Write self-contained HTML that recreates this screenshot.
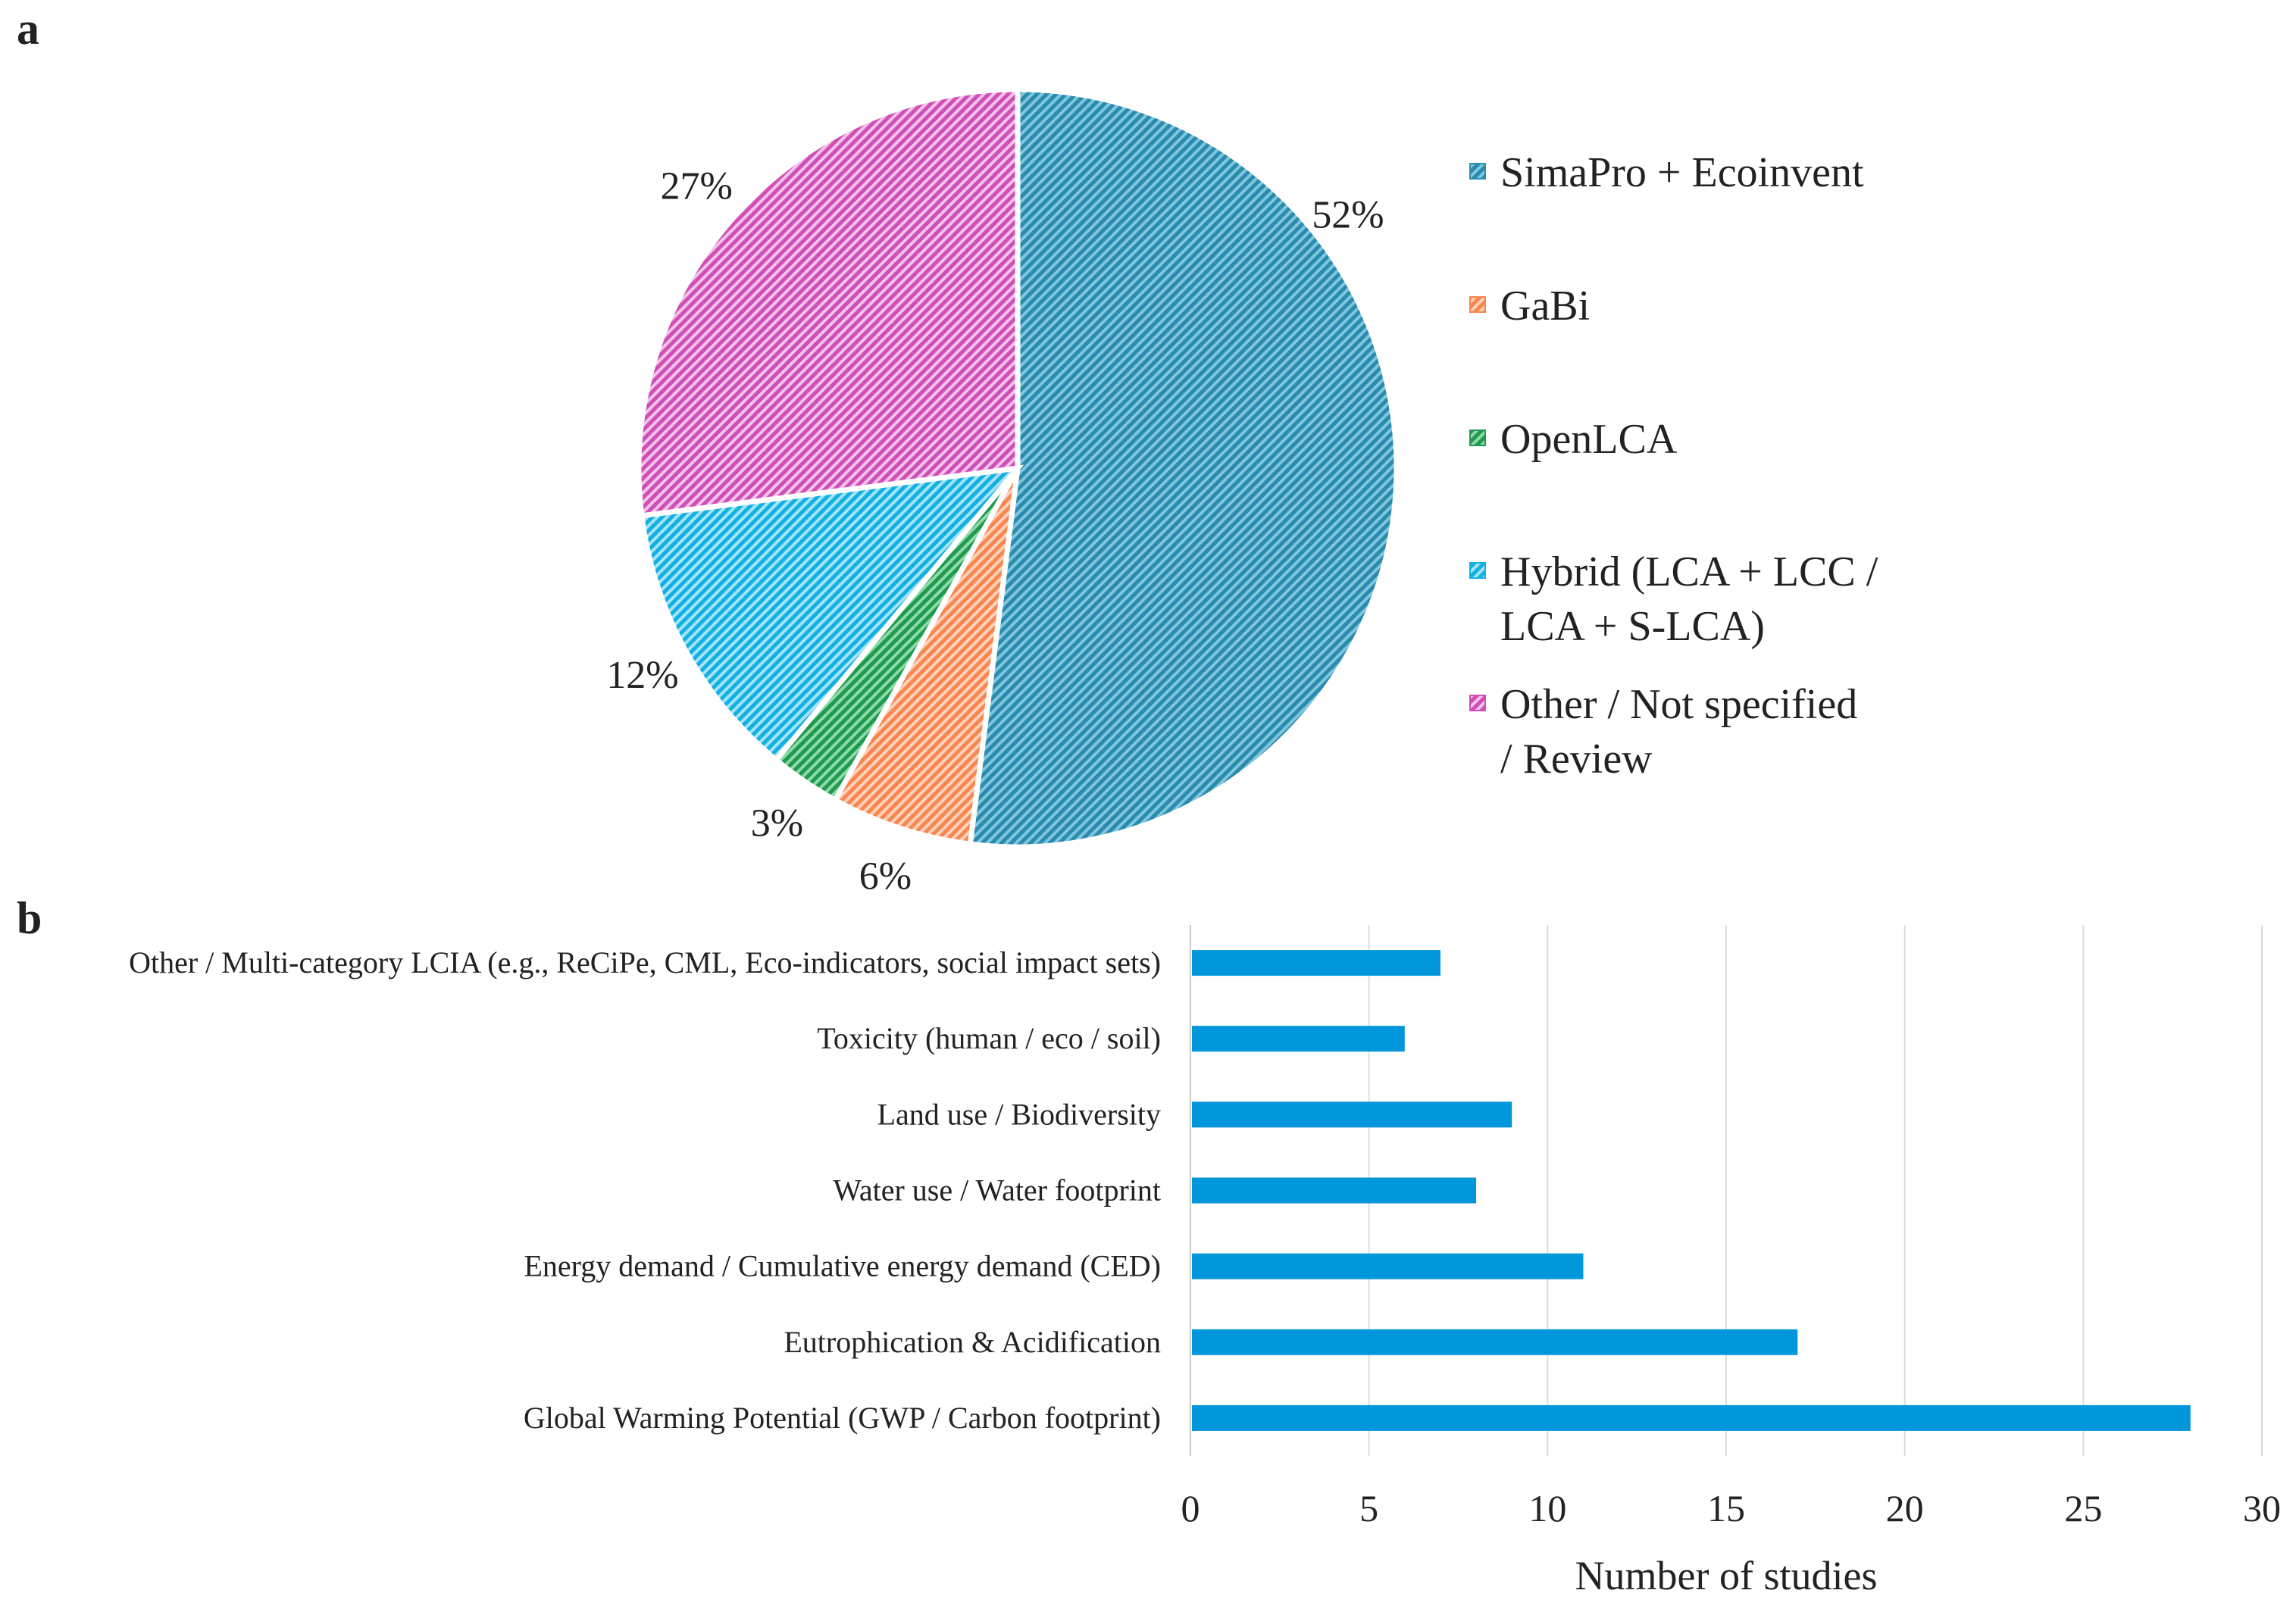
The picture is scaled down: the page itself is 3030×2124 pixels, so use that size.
<!DOCTYPE html>
<html><head><meta charset="utf-8"><style>
html,body{margin:0;padding:0;background:#fff}
svg{display:block}
text{font-family:"Liberation Serif",serif;fill:#222}
</style></head><body>
<svg id="chart" width="3030" height="2124" viewBox="0 0 3030 2124" xmlns="http://www.w3.org/2000/svg">
<defs>
<pattern id="p0" width="9" height="9" patternUnits="userSpaceOnUse" patternTransform="rotate(45)"><rect width="9" height="9" fill="#7fc6de"/><rect width="5" height="9" fill="#2a8bad"/></pattern>
<pattern id="p1" width="9" height="9" patternUnits="userSpaceOnUse" patternTransform="rotate(45)"><rect width="9" height="9" fill="#fdd2bc"/><rect width="5" height="9" fill="#f7874f"/></pattern>
<pattern id="p2" width="9" height="9" patternUnits="userSpaceOnUse" patternTransform="rotate(45)"><rect width="9" height="9" fill="#8fdaa9"/><rect width="5" height="9" fill="#1f9a4f"/></pattern>
<pattern id="p3" width="9" height="9" patternUnits="userSpaceOnUse" patternTransform="rotate(45)"><rect width="9" height="9" fill="#a6e4f7"/><rect width="5" height="9" fill="#12b0e3"/></pattern>
<pattern id="p4" width="9" height="9" patternUnits="userSpaceOnUse" patternTransform="rotate(45)"><rect width="9" height="9" fill="#f3c3ea"/><rect width="5" height="9" fill="#cf4fb6"/></pattern>
</defs>
<text x="22" y="58" font-size="60" font-weight="bold">a</text>
<text x="22" y="1232" font-size="60" font-weight="bold">b</text>
<g id="pie"></g>
<g id="legend"></g>
<g id="bars"></g>
</svg>
<script>
const pieCategories = ["SimaPro + Ecoinvent","GaBi","OpenLCA","Hybrid (LCA + LCC / LCA + S-LCA)","Other / Not specified / Review"];
const pieValues = [52, 6, 3, 12, 27];
const pieLabels = ["52%","6%","3%","12%","27%"];
const legendLines = [["SimaPro + Ecoinvent"],["GaBi"],["OpenLCA"],["Hybrid (LCA + LCC /","LCA + S-LCA)"],["Other / Not specified","/ Review"]];

const barCategories = ["Other / Multi-category LCIA (e.g., ReCiPe, CML, Eco-indicators, social impact sets)","Toxicity (human / eco / soil)","Land use / Biodiversity","Water use / Water footprint","Energy demand / Cumulative energy demand (CED)","Eutrophication & Acidification","Global Warming Potential (GWP / Carbon footprint)"];
const barValues = [7, 6, 9, 8, 11, 17, 28];
const xTicks = [0, 5, 10, 15, 20, 25, 30];

const NS = "http://www.w3.org/2000/svg";
function mk(tag, attrs, parent){const e=document.createElementNS(NS,tag);for(const k in attrs)e.setAttribute(k,attrs[k]);parent.appendChild(e);return e;}

// Pie
const pie = document.getElementById('pie');
const cx=1343, cy=618, R=500;
const total = pieValues.reduce((a,b)=>a+b,0);
let acc=0;
pieValues.forEach((v,i)=>{
  const a0=acc/total*2*Math.PI, a1=(acc+v)/total*2*Math.PI; acc+=v;
  const x0=cx+R*Math.sin(a0), y0=cy-R*Math.cos(a0), x1=cx+R*Math.sin(a1), y1=cy-R*Math.cos(a1);
  const large=(a1-a0)>Math.PI?1:0;
  const p=mk('path',{d:`M${cx},${cy} L${x0},${y0} A${R},${R} 0 ${large} 1 ${x1},${y1} Z`,fill:`url(#p${i})`,stroke:'#fff','stroke-width':7},pie);
  
  
  const big = v/total > 0.5;
  const am = big ? a0+(a1-a0)*0.28 : (a0+a1)/2;
  const lr = big ? R+50 : R+65;
  const t=mk('text',{x:cx+lr*Math.sin(am),y:cy-lr*Math.cos(am)+18,'font-size':52,'text-anchor':'middle'},pie);
  t.textContent=pieLabels[i];
  
  
});

// Legend
const lg=document.getElementById('legend');
const colors=['#2a8fb3','#f7874f','#1f9a4f','#12b0e3','#cf4fb6'];
const legY=[228,404,580,755,930];
legendLines.forEach((lines,i)=>{
  const s=mk('rect',{x:1940,y:legY[i]-12,width:20,height:20,fill:`url(#p${i})`,stroke:colors[i],'stroke-width':2},lg);
  
  
  lines.forEach((ln,j)=>{
    const t=mk('text',{x:1980,y:legY[i]+18+j*72,'font-size':56},lg);
    t.textContent=ln;
    
    
  });
});

// Bars
const bg=document.getElementById('bars');
const x0=1571, x1=2985, yTop=1221, yBot=1922;
const xs=v=>x0+(v-xTicks[0])/(xTicks[xTicks.length-1]-xTicks[0])*(x1-x0);
const band=(yBot-yTop)/barCategories.length;
const ys=i=>yTop+band*(i+0.5);
xTicks.forEach(t=>{
  const l=mk('line',{x1:xs(t),x2:xs(t),y1:yTop,y2:yBot,stroke:t===0?'#c8c8c8':'#dcdcdc','stroke-width':2},bg);
  
  
  const tx=mk('text',{x:xs(t),y:2008,'font-size':50,'text-anchor':'middle'},bg);
  tx.textContent=t;
  
  
});
barCategories.forEach((c,i)=>{
  const r=mk('rect',{x:xs(0)+2,y:ys(i)-17,width:xs(barValues[i])-xs(0)-2,height:34,fill:'#0096db'},bg);
  
  
  const t=mk('text',{x:1532,y:ys(i)+13,'font-size':40,'text-anchor':'end'},bg);
  t.textContent=c;
  
  
});
const title=mk('text',{x:(x0+x1)/2,y:2098,'font-size':54,'text-anchor':'middle'},bg);
title.textContent='Number of studies';


</script>
</body></html>
